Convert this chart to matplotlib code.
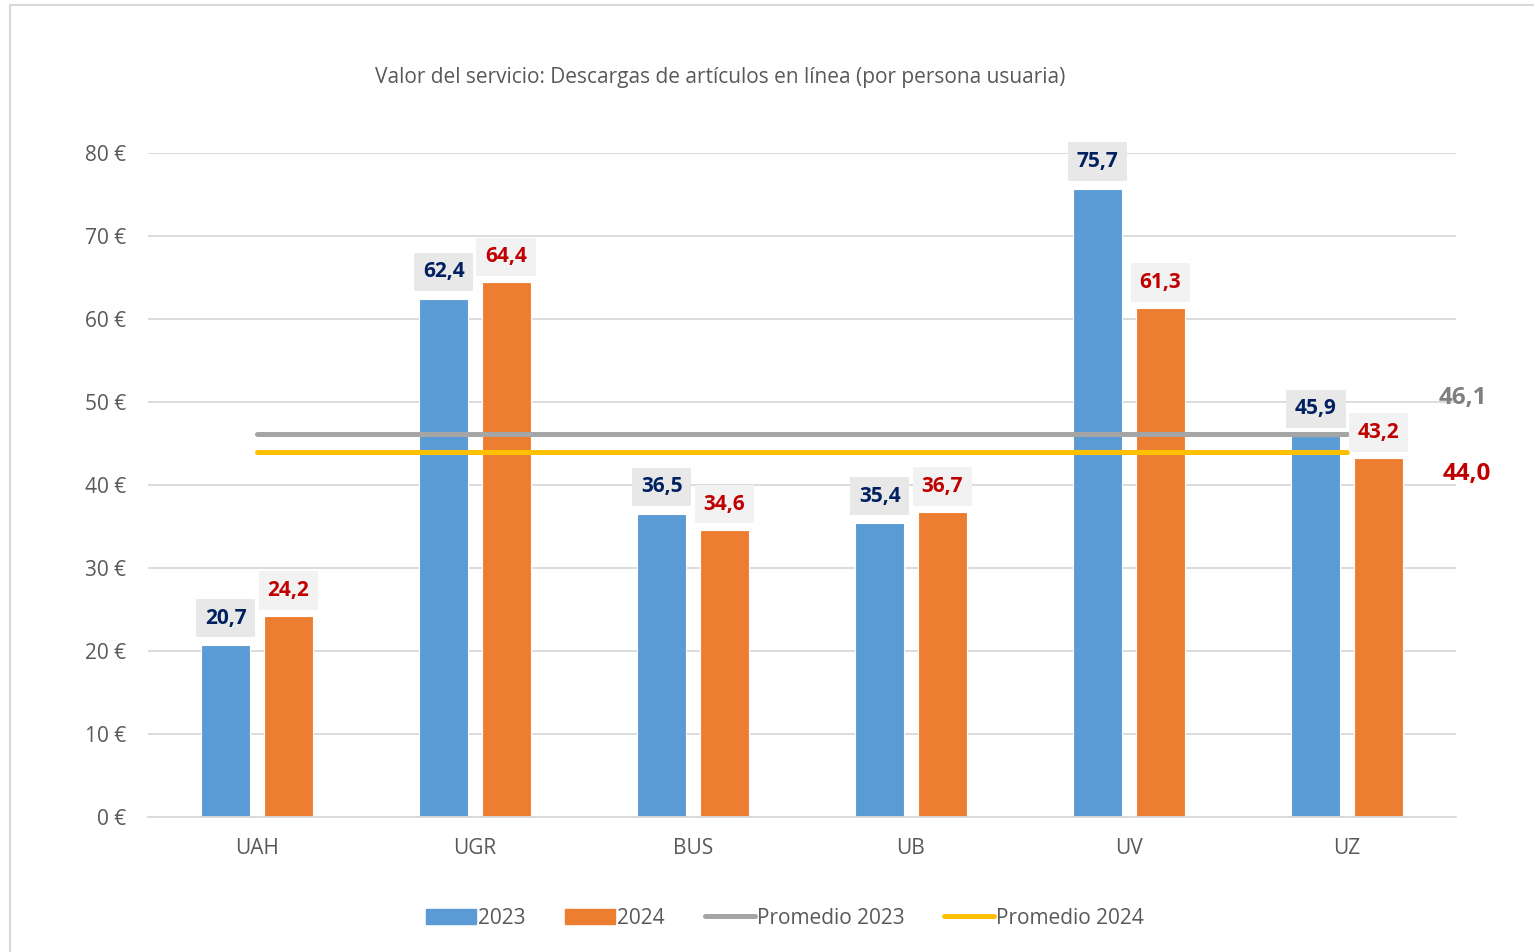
import matplotlib
matplotlib.use("Agg")
import matplotlib.pyplot as plt
from matplotlib.lines import Line2D
from matplotlib.patches import Patch
import numpy as np

plt.rcParams['font.family'] = ['Open Sans', 'DejaVu Sans']

categories = ["UAH", "UGR", "BUS", "UB", "UV", "UZ"]
v2023 = [20.7, 62.4, 36.5, 35.4, 75.7, 45.9]
v2024 = [24.2, 64.4, 34.6, 36.7, 61.3, 43.2]
avg2023 = 46.1
avg2024 = 44.0
yticks = [0, 10, 20, 30, 40, 50, 60, 70, 80]
title = "Valor del servicio: Descargas de artículos en línea (por persona usuaria)"

def fmt(v):
    return f"{v:.1f}".replace(".", ",")

fig = plt.figure(figsize=(15.34, 9.52), dpi=100)
ax = fig.add_axes([148/1534, 1-817/952, 1308/1534, (817-153)/952])

x = np.arange(len(categories))
off = 0.143
w = 0.225
c23, c24 = "#5B9BD5", "#ED7D31"
ax.bar(x - off, v2023, width=w, color=c23, edgecolor="white", linewidth=0.8, zorder=2)
ax.bar(x + off, v2024, width=w, color=c24, edgecolor="white", linewidth=0.8, zorder=2)

ax.plot([x[0], x[-1]], [avg2023, avg2023], color="#A5A5A5", lw=3.6, solid_capstyle="round", zorder=3)
ax.plot([x[0], x[-1]], [avg2024, avg2024], color="#FFC000", lw=3.6, solid_capstyle="round", zorder=3)

for xi, v in zip(x, v2023):
    ax.annotate(fmt(v), (xi - off, v), xytext=(0, 19.5), textcoords="offset points",
                ha="center", va="center", fontsize=15, fontweight="bold", color="#002060",
                bbox=dict(boxstyle="square,pad=0.42", fc="#E8E8E8", ec="none"), zorder=5)
for xi, v in zip(x, v2024):
    ax.annotate(fmt(v), (xi + off, v), xytext=(0, 18.5), textcoords="offset points",
                ha="center", va="center", fontsize=15, fontweight="bold", color="#C00000",
                bbox=dict(boxstyle="square,pad=0.42", fc="#F2F2F2", ec="none"), zorder=5)

ax.text(5.53, avg2023 + 4.4, fmt(avg2023), ha="center", va="center", fontsize=17.5,
        fontweight="bold", color="#808080")
ax.text(5.55, avg2024 - 2.7, fmt(avg2024), ha="center", va="center", fontsize=17.5,
        fontweight="bold", color="#C00000")

ax.set_xlim(-0.5, 5.5)
ax.set_ylim(0, 80)
ax.set_yticks(yticks)
ax.set_yticklabels([f"{t} €" for t in yticks], fontsize=15, color="#595959")
ax.set_xticks(x)
ax.set_xticklabels(categories, fontsize=15, color="#595959")
ax.tick_params(length=0, pad=16, axis="y")
ax.tick_params(length=0, pad=15, axis="x")
ax.grid(axis="y", color="#D9D9D9", lw=1.3, zorder=0)
ax.set_axisbelow(True)
for s in ["top", "right", "left"]:
    ax.spines[s].set_visible(False)
ax.spines["bottom"].set_color("#D9D9D9")
ax.spines["bottom"].set_linewidth(1.3)

fig.text(720/1534, 1-77/952, title, ha="center", va="center", fontsize=15, color="#595959")

handles = [Patch(color=c23), Patch(color=c24),
           Line2D([], [], color="#A5A5A5", lw=3.6, solid_capstyle="round"),
           Line2D([], [], color="#FFC000", lw=3.6, solid_capstyle="round")]
labels = ["2023", "2024", "Promedio 2023", "Promedio 2024"]
fig.legend(handles, labels, loc="center", bbox_to_anchor=(785/1534, 1-918/952), ncol=4,
           frameon=False, fontsize=15, labelcolor="#595959", handlelength=2.4,
           handleheight=0.7, handletextpad=0.1, columnspacing=1.9)

fig.add_artist(Line2D([10/1534, 10/1534], [0, 1-5/952], color="#D9D9D9", lw=1.5, transform=fig.transFigure))
fig.add_artist(Line2D([10/1534, 1], [1-5/952, 1-5/952], color="#D9D9D9", lw=1.5, transform=fig.transFigure))

fig.savefig("out.png", dpi=100)
